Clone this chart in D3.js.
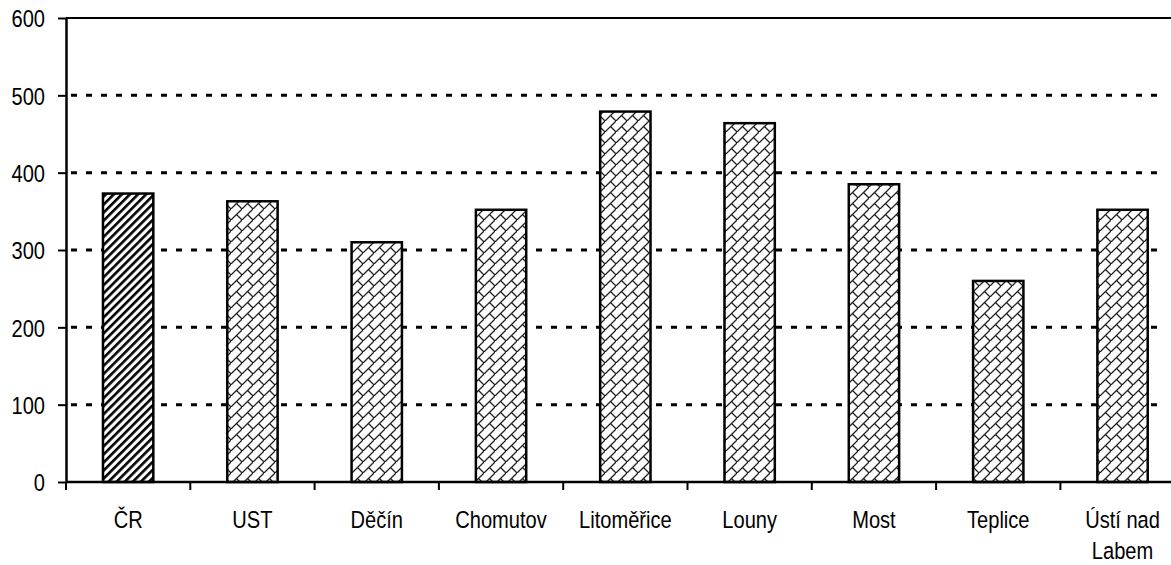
<!DOCTYPE html>
<html lang="cs">
<head>
  <meta charset="UTF-8" />
  <title>Chart</title>
  <script src="https://d3js.org/d3.v7.min.js"></script>
  <style>
    body { margin: 0; background: #fff; }
    text { font-family: "Liberation Sans", Arial, sans-serif; fill: #000; }
  </style>
</head>
<body>
<div id="chart"></div>
<script>
  // data
  var categories = ["ČR", "UST", "Děčín", "Chomutov", "Litoměřice", "Louny", "Most", "Teplice", "Ústí nad Labem"];
  var values = [373, 363, 310, 352, 479, 464, 385, 260, 352];
  var yTicks = [0, 100, 200, 300, 400, 500, 600];
  var labelLines = { "Ústí nad Labem": ["Ústí nad", "Labem"] };

  var W = 1171, H = 565;
  var margin = {top: 18, left: 66, bottom: 83};
  var step = 124.3;
  var fontSize = 24.5, squeeze = 0.82; // narrow face imitated by a horizontal squeeze

  var svg = d3.select("#chart").append("svg")
    .attr("width", W)
    .attr("height", H);

  // fill patterns
  var defs = svg.append("defs");
  var stripes = defs.append("pattern")
    .attr("id", "stripes")
    .attr("patternUnits", "userSpaceOnUse")
    .attr("width", 5.7).attr("height", 5.7)
    .attr("patternTransform", "rotate(45)");
  stripes.append("rect").attr("width", 5.7).attr("height", 5.7).attr("fill", "#fff");
  stripes.append("rect").attr("width", 2.6).attr("height", 5.7).attr("fill", "#000");

  var brick = defs.append("pattern")
    .attr("id", "brick")
    .attr("patternUnits", "userSpaceOnUse")
    .attr("width", 11).attr("height", 11);
  brick.append("rect").attr("width", 11).attr("height", 11).attr("fill", "#fff");
  brick.append("path")
    .attr("d", "M-1,12 L12,-1 M5.5,5.5 L12,12")
    .attr("stroke", "#222")
    .attr("stroke-width", 1.3)
    .attr("fill", "none");

  var x = d3.scaleBand()
    .domain(categories)
    .range([margin.left, margin.left + step * categories.length])
    .padding(0);

  var y = d3.scaleLinear()
    .domain([0, 600])
    .range([H - margin.bottom, margin.top]);

  // grid lines
  svg.append("g")
    .selectAll("line")
    .data(yTicks.filter(function(d) { return d > 0 && d < 600; }))
    .enter()
    .append("line")
      .attr("x1", margin.left)
      .attr("x2", 1162)
      .attr("y1", function(d) { return y(d); })
      .attr("y2", function(d) { return y(d); })
      .attr("stroke", "#000")
      .attr("stroke-width", 3)
      .attr("stroke-dasharray", "6,9")
      .attr("stroke-dashoffset", -5);

  // top border
  svg.append("line")
    .attr("x1", margin.left).attr("x2", W)
    .attr("y1", y(600)).attr("y2", y(600))
    .attr("stroke", "#000").attr("stroke-width", 2);

  // bars
  var barW = step * 0.405;
  svg.append("g")
    .selectAll("rect")
    .data(categories)
    .enter()
    .append("rect")
      .attr("x", function(d) { return x(d) + (x.bandwidth() - barW) / 2; })
      .attr("y", function(d, i) { return y(values[i]); })
      .attr("width", barW)
      .attr("height", function(d, i) { return y(0) - y(values[i]); })
      .attr("fill", function(d, i) { return i === 0 ? "url(#stripes)" : "url(#brick)"; })
      .attr("stroke", "#000")
      .attr("stroke-width", 2.5);

  // y axis
  var yAxis = svg.append("g")
    .attr("transform", "translate(" + margin.left + ",0)")
    .call(d3.axisLeft(y).tickValues(yTicks).tickSize(8).tickPadding(13).tickSizeOuter(0));
  yAxis.attr("font-family", null).attr("font-size", null);
  yAxis.select(".domain").attr("stroke-width", 2.5);
  yAxis.selectAll(".tick line").attr("stroke-width", 2);
  yAxis.selectAll("text")
    .attr("font-size", fontSize)
    .attr("dy", "0.36em")
    .attr("transform", "translate(-21,0) scale(" + squeeze + ",1) translate(21,0)");

  // x axis
  var xAxis = svg.append("g")
    .attr("transform", "translate(0," + y(0) + ")")
    .call(d3.axisBottom(x).tickSize(0).tickSizeOuter(0).tickFormat(""));
  xAxis.select(".domain").attr("d", "M" + margin.left + ",0H" + W).attr("stroke-width", 2.5);

  // ticks between categories
  svg.append("g")
    .selectAll("line")
    .data(categories)
    .enter()
    .append("line")
      .attr("x1", function(d) { return x(d); })
      .attr("x2", function(d) { return x(d); })
      .attr("y1", y(0))
      .attr("y2", y(0) + 8)
      .attr("stroke", "#000")
      .attr("stroke-width", 2);

  // category labels
  var labels = svg.append("g")
    .selectAll("text")
    .data(categories)
    .enter()
    .append("text")
      .attr("text-anchor", "middle")
      .attr("font-size", fontSize)
      .attr("transform", function(d) {
        return "translate(" + (x(d) + x.bandwidth() / 2) + ",528) scale(" + squeeze + ",1)";
      });
  labels.each(function(d) {
    var lines = labelLines[d] || [d];
    var t = d3.select(this);
    lines.forEach(function(l, i) {
      t.append("tspan")
        .attr("x", 0)
        .attr("dy", i === 0 ? 0 : 31)
        .text(l);
    });
  });
</script>
</body>
</html>
